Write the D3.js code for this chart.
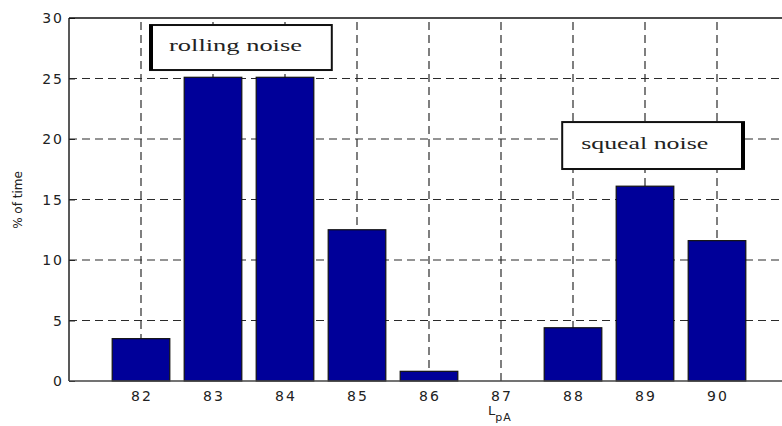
<!DOCTYPE html>
<html>
<head>
<meta charset="utf-8">
<script src="https://cdn.jsdelivr.net/npm/d3@7"></script>
<style>
  body { margin: 0; background: #fff; }
  svg { display: block; }
</style>
</head>
<body>
<div id="chart"></div>
<script>
// Chart data
const levels = [82, 83, 84, 85, 86, 87, 88, 89, 90];
const percentTime = [3.5, 25.1, 25.1, 12.5, 0.8, 0, 4.4, 16.1, 11.6];
const yTicks = [0, 5, 10, 15, 20, 25, 30];
const notes = [
  { label: "rolling noise", x0: 82.125, x1: 84.65, y0: 29.42, y1: 25.7, thick: "left", tw: 133 },
  { label: "squeal noise", x0: 87.85, x1: 90.375, y0: 21.4, y1: 17.52, thick: "right", tw: 127 }
];

const width = 782, height = 426;
const margin = { top: 18, left: 69, bottom: 45 };

const svg = d3.select("#chart")
  .append("svg")
  .attr("width", width)
  .attr("height", height);

// x runs 81..91 so the last category sits near the right edge (plot is clipped)
const x = d3.scaleLinear().domain([81, 91]).range([margin.left, margin.left + 720]);
const y = d3.scaleLinear().domain([0, 30]).range([height - margin.bottom, margin.top]);
const bw = (x(82) - x(81)) * 0.8;

const grid = svg.append("g")
  .attr("stroke", "#2a2a2a")
  .attr("stroke-width", 1.2)
  .attr("stroke-dasharray", "8,5");

grid.selectAll("line.v")
  .data(levels)
  .enter()
  .append("line")
  .attr("class", "v")
  .attr("x1", d => x(d)).attr("x2", d => x(d))
  .attr("y1", y(0)).attr("y2", y(30));

grid.selectAll("line.h")
  .data(yTicks.filter(d => d > 0 && d < 30))
  .enter()
  .append("line")
  .attr("class", "h")
  .attr("x1", x(81)).attr("x2", width)
  .attr("y1", d => y(d)).attr("y2", d => y(d));

// bars
svg.append("g")
  .selectAll("rect")
  .data(levels.map((l, i) => ({ l, v: percentTime[i] })).filter(d => d.v > 0))
  .enter()
  .append("rect")
  .attr("x", d => x(d.l) - bw / 2)
  .attr("y", d => y(d.v))
  .attr("width", bw)
  .attr("height", d => y(0) - y(d.v))
  .attr("fill", "#000099")
  .attr("stroke", "#111")
  .attr("stroke-width", 1.2);

// axes
const yAxis = svg.append("g")
  .attr("transform", `translate(${x(81)},0)`)
  .call(d3.axisRight(y).tickValues(yTicks).tickSize(6).tickFormat(""));
yAxis.select(".domain").remove();
yAxis.selectAll("line").attr("stroke", "#222");

const tickFont = "DejaVu Sans, Verdana, sans-serif";

svg.append("g")
  .selectAll("text")
  .data(yTicks)
  .enter()
  .append("text")
  .attr("x", x(81) - 5)
  .attr("y", d => y(d))
  .attr("dy", "0.36em")
  .attr("text-anchor", "end")
  .attr("font-family", tickFont)
  .attr("font-size", 14)
  .attr("letter-spacing", 2)
  .attr("fill", "#222")
  .text(d => d);

svg.append("g")
  .selectAll("text")
  .data(levels)
  .enter()
  .append("text")
  .attr("x", d => x(d) + 1)
  .attr("y", y(0) + 20)
  .attr("text-anchor", "middle")
  .attr("font-family", tickFont)
  .attr("font-size", 14)
  .attr("letter-spacing", 2)
  .attr("fill", "#222")
  .text(d => d);

// frame: left, bottom, top
svg.append("line")
  .attr("x1", x(81)).attr("x2", x(81)).attr("y1", y(30)).attr("y2", y(0))
  .attr("stroke", "#222").attr("stroke-width", 1.5);
svg.append("line")
  .attr("x1", x(81)).attr("x2", width).attr("y1", y(0)).attr("y2", y(0))
  .attr("stroke", "#444").attr("stroke-width", 1.5);
svg.append("line")
  .attr("x1", x(81)).attr("x2", width).attr("y1", y(30)).attr("y2", y(30))
  .attr("stroke", "#111").attr("stroke-width", 1.5);

// axis labels
const xl = svg.append("text")
  .attr("x", 500)
  .attr("y", 415)
  .attr("text-anchor", "middle")
  .attr("font-family", tickFont)
  .attr("font-size", 13)
  .attr("fill", "#222");
xl.append("tspan").text("L");
xl.append("tspan").attr("font-size", 11).attr("dy", 6).attr("letter-spacing", 1).text("pA");

svg.append("text")
  .attr("transform", "translate(22,200) rotate(-90)")
  .attr("text-anchor", "middle")
  .attr("font-family", tickFont)
  .attr("font-size", 12)
  .attr("fill", "#222")
  .text("% of time");

// annotation boxes
const nb = svg.append("g")
  .selectAll("g")
  .data(notes)
  .enter()
  .append("g");

nb.append("rect")
  .attr("x", d => x(d.x0))
  .attr("y", d => y(d.y0))
  .attr("width", d => x(d.x1) - x(d.x0))
  .attr("height", d => y(d.y1) - y(d.y0))
  .attr("fill", "#fff")
  .attr("stroke", "#111")
  .attr("stroke-width", 2);

nb.append("line")
  .attr("x1", d => d.thick === "left" ? x(d.x0) + 1 : x(d.x1) - 1)
  .attr("x2", d => d.thick === "left" ? x(d.x0) + 1 : x(d.x1) - 1)
  .attr("y1", d => y(d.y0))
  .attr("y2", d => y(d.y1))
  .attr("stroke", "#000")
  .attr("stroke-width", 4);

nb.append("text")
  .attr("x", d => x(d.x0) + 19)
  .attr("y", d => (y(d.y0) + y(d.y1)) / 2 + 3)
  .attr("textLength", d => d.tw)
  .attr("lengthAdjust", "spacingAndGlyphs")
  .attr("font-family", "Liberation Serif, Times New Roman, serif")
  .attr("font-size", 17)
  .attr("fill", "#222")
  .text(d => d.label);
</script>
</body>
</html>
